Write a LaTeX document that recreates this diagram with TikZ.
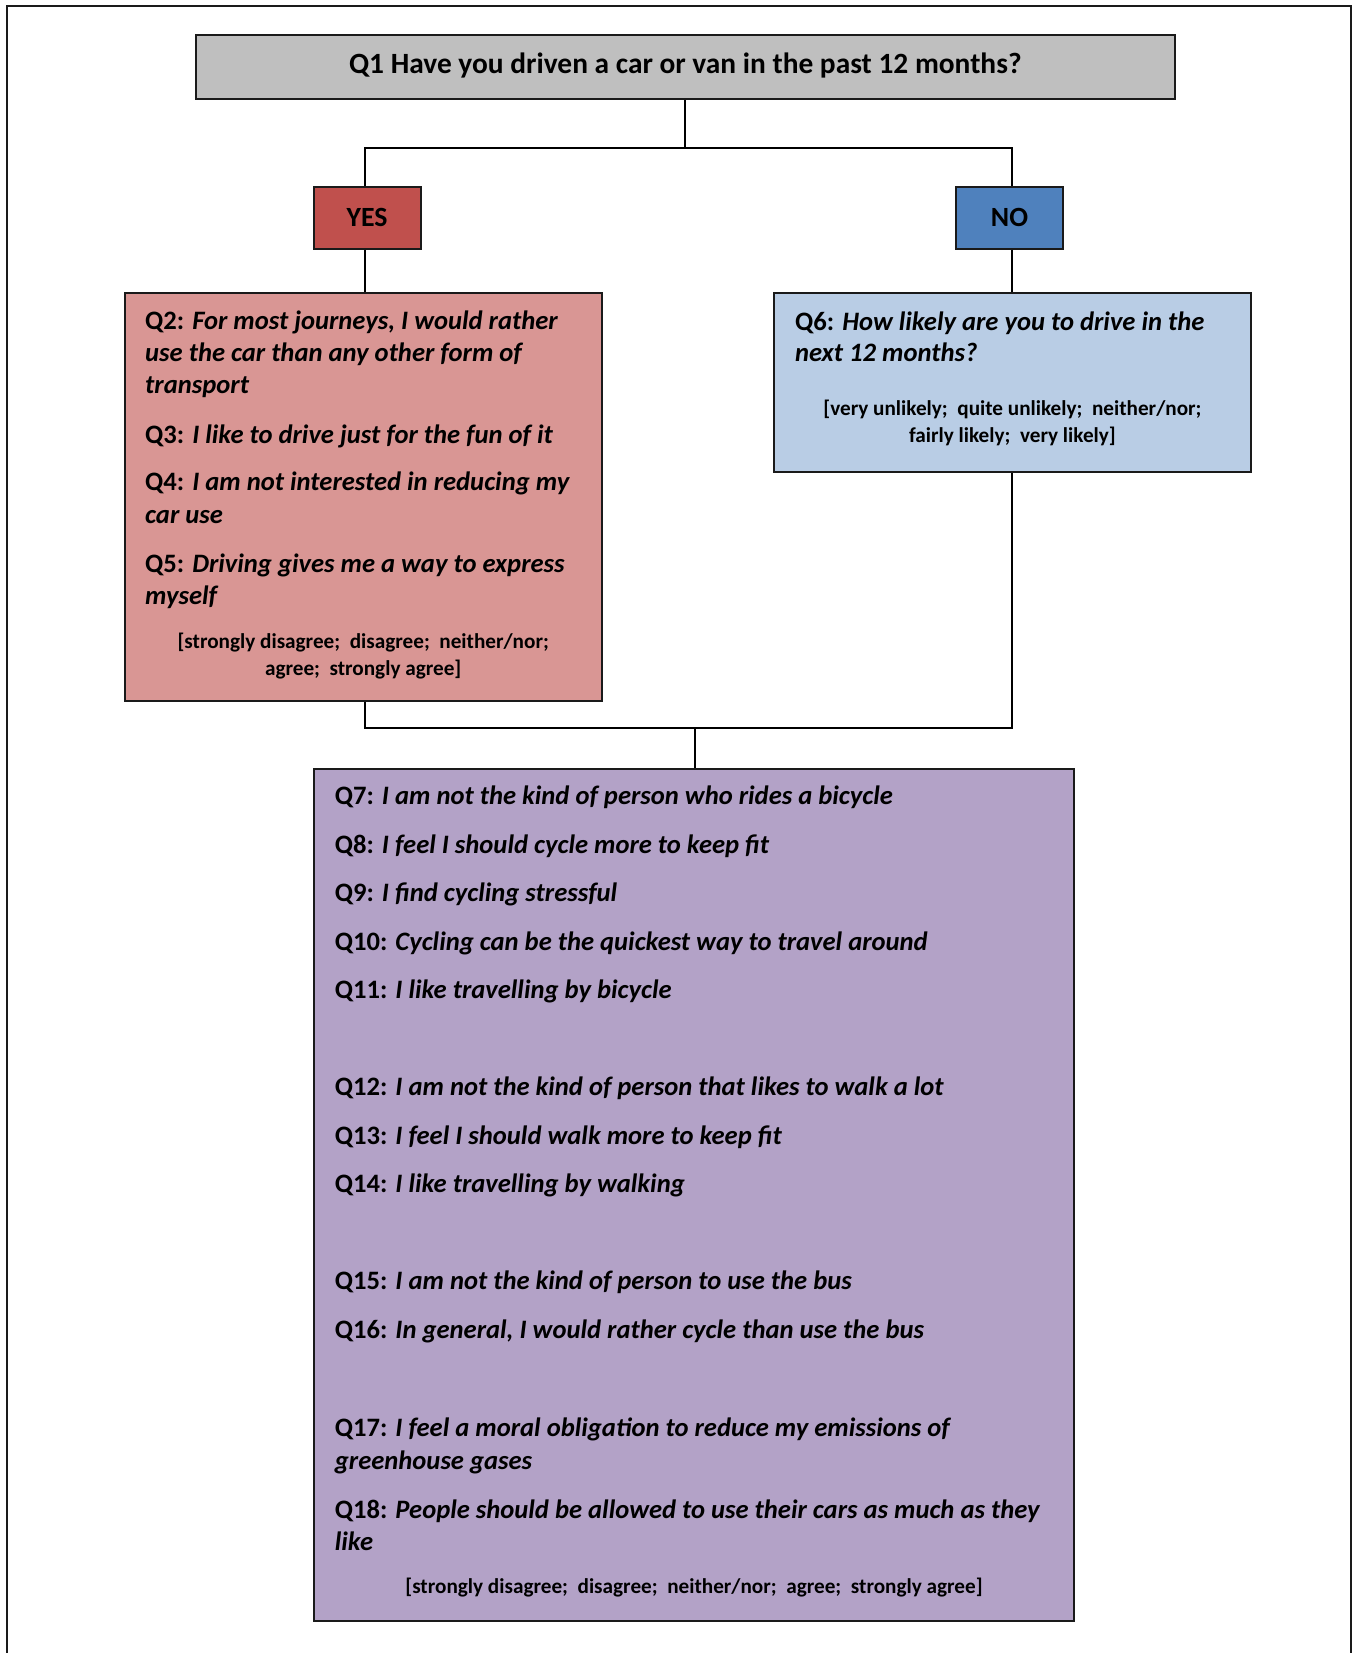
\documentclass[tikz,border=0pt]{standalone}
\usepackage{fontspec}
\setmainfont{Carlito}
\definecolor{qgray}{HTML}{BFBFBF}
\definecolor{yesred}{HTML}{C0504D}
\definecolor{noblue}{HTML}{4F81BD}
\definecolor{pinkbox}{HTML}{D99694}
\definecolor{bluebox}{HTML}{B9CDE5}
\definecolor{purplebox}{HTML}{B3A2C7}
\definecolor{edge}{HTML}{1A1A1A}
\tikzset{
  box/.style={draw=edge, line width=2pt, rectangle, inner sep=0pt},
  conn/.style={draw=black, line width=1.8pt},
  qline/.style={anchor=base west, inner sep=0pt, font=\fontsize{26.6}{32.6}\selectfont\bfseries},
  scaleline/.style={anchor=base, inner sep=0pt, font=\fontsize{21.2}{27}\selectfont\bfseries},
}
\newcommand{\qq}[2]{Q#1: \textit{#2}}
\begin{document}
\begin{tikzpicture}[x=1pt,y=-1pt]
\useasboundingbox (0,0) rectangle (1357,1653);
% outer frame
\draw[line width=2pt, edge] (6.7,1660) -- (6.7,6) -- (1351,6) -- (1351,1660);
% boxes
\node[box, fill=qgray, minimum width=979.5pt, minimum height=64pt, text height=14pt, text depth=0pt,
  font=\fontsize{29.4}{34}\selectfont\bfseries] (q1) at (685.25,67)
  {Q1 Have you driven a car or van in the past 12 months?};
\node[box, fill=yesred, minimum width=107pt, minimum height=62pt, text height=17.7pt, text depth=0pt,
  font=\fontsize{27.8}{32}\selectfont\bfseries] (yes) at (367,217.7) {YES};
\node[box, fill=noblue, minimum width=107pt, minimum height=62pt, text height=17.7pt, text depth=0pt,
  font=\fontsize{27.8}{32}\selectfont\bfseries] (no) at (1009.5,217.7) {NO};
\node[box, fill=pinkbox, minimum width=477pt, minimum height=408pt] (q2) at (363.2,496.7) {};
\node[box, fill=bluebox, minimum width=476.7pt, minimum height=179pt] (q6) at (1012.4,382.2) {};
\node[box, fill=purplebox, minimum width=760pt, minimum height=852pt] (q7) at (694,1195) {};
% connectors
\coordinate (split) at (685.25,148.3);
\coordinate (join) at (694.7,727.7);
\coordinate (lx) at (365,0);
\coordinate (rx) at (1011.7,0);
\draw[conn] (q1.south) -- (split);
\draw[conn] (lx |- yes.north) -- (lx |- split) -- (rx |- split) -- (rx |- no.north);
\draw[conn] (lx |- yes.south) -- (lx |- q2.north);
\draw[conn] (rx |- no.south) -- (rx |- q6.north);
\draw[conn] (lx |- q2.south) -- (lx |- join) -- (rx |- join) -- (rx |- q6.south);
\draw[conn] (join) -- (join |- q7.north);
% Q2 box text
\node[qline] (t2a) at (145,329) {\qq{2}{For most journeys, I would rather}};
\node[qline] (t2b) at (145,361.5) {\textit{use the car than any other form of}};
\node[qline] (t2c) at (145,393.5) {\textit{transport}};
\node[qline] (t3) at (145,443) {\qq{3}{I like to drive just for the fun of it}};
\node[qline] (t4a) at (145,490.7) {\qq{4}{I am not interested in reducing my}};
\node[qline] (t4b) at (145,523) {\textit{car use}};
\node[qline] (t5a) at (145,572.7) {\qq{5}{Driving gives me a way to express}};
\node[qline] (t5b) at (145,604.5) {\textit{myself}};
\node[scaleline] (s2a) at (363.2,648) {[strongly disagree;\ \ disagree;\ \ neither/nor;};
\node[scaleline] (s2b) at (363.2,675) {agree;\ \ strongly agree]};
% Q6 box text
\node[qline] (t6a) at (795,330) {\qq{6}{How likely are you to drive in the}};
\node[qline] (t6b) at (795,361.5) {\textit{next 12 months?}};
\node[scaleline] (s6a) at (1012.4,415) {[very unlikely;\ \ quite unlikely;\ \ neither/nor;};
\node[scaleline] (s6b) at (1012.4,442) {fairly likely;\ \ very likely]};
% purple box text
\node[qline] (t7) at (334.7,804.5) {\qq{7}{I am not the kind of person who rides a bicycle}};
\node[qline] (t8) at (334.7,853) {\qq{8}{I feel I should cycle more to keep fit}};
\node[qline] (t9) at (334.7,901.5) {\qq{9}{I find cycling stressful}};
\node[qline] (t10) at (334.7,950) {\qq{10}{Cycling can be the quickest way to travel around}};
\node[qline] (t11) at (334.7,998.5) {\qq{11}{I like travelling by bicycle}};
\node[qline] (t12) at (334.7,1095.5) {\qq{12}{I am not the kind of person that likes to walk a lot}};
\node[qline] (t13) at (334.7,1144) {\qq{13}{I feel I should walk more to keep fit}};
\node[qline] (t14) at (334.7,1192.5) {\qq{14}{I like travelling by walking}};
\node[qline] (t15) at (334.7,1289.5) {\qq{15}{I am not the kind of person to use the bus}};
\node[qline] (t16) at (334.7,1338) {\qq{16}{In general, I would rather cycle than use the bus}};
\node[qline] (t17a) at (334.7,1436.7) {\qq{17}{I feel a moral obligation to reduce my emissions of}};
\node[qline] (t17b) at (334.7,1469.3) {\textit{greenhouse gases}};
\node[qline] (t18a) at (334.7,1518.3) {\qq{18}{People should be allowed to use their cars as much as they}};
\node[qline] (t18b) at (334.7,1550) {\textit{like}};
\node[scaleline] (s7) at (694,1593.3) {[strongly disagree;\ \ disagree;\ \ neither/nor;\ \ agree;\ \ strongly agree]};
\end{tikzpicture}
\end{document}
